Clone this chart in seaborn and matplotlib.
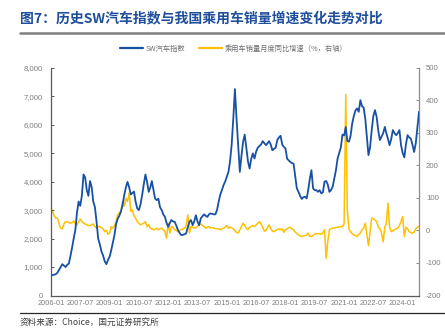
import numpy as np
import pandas as pd
import matplotlib
matplotlib.use("Agg")
import matplotlib.pyplot as plt
import seaborn as sns
from matplotlib.lines import Line2D

# ---------------- data ----------------
start_month = "2006-01"
n_months = 227
x_tick_labels = ["2006-01", "2007-07", "2009-01", "2010-07", "2012-01", "2013-07",
                 "2015-01", "2016-07", "2018-01", "2019-07", "2021-01", "2022-07", "2024-01"]
left_ticks = [0, 1000, 2000, 3000, 4000, 5000, 6000, 7000, 8000]
right_ticks = [-200, -100, 0, 100, 200, 300, 400, 500]

sw_index = [
    # 2006
    700, 720, 730, 750, 800, 900, 1000, 1100, 1050, 1000, 1080, 1120,
    # 2007
    1400, 1700, 2000, 2300, 2900, 3300, 3150, 3500, 4250, 4150, 3700, 3500,
    # 2008
    4020, 3800, 3300, 3100, 2600, 2000, 1800, 1550, 1400, 1200, 1100, 1250,
    # 2009
    1360, 1600, 1850, 2120, 2500, 2700, 2800, 2950, 3200, 3530, 3800, 3990,
    # 2010
    3800, 3550, 3600, 3650, 3300, 3060, 3000, 3200, 3530, 3900, 4250, 4000,
    # 2011
    3640, 3800, 4020, 3700, 3400, 3350, 3400, 3100, 3000, 2850, 2760, 2550,
    # 2012
    2410, 2550, 2650, 2600, 2590, 2450, 2300, 2200, 2120, 2130, 2150, 2180,
    # 2013
    2400, 2590, 2650, 2470, 2600, 2820, 2600, 2470, 2710, 2780, 2850, 2800,
    # 2014
    2760, 2850, 2880, 2870, 2850, 2850, 3000, 3290, 3550, 3700, 3880, 4000,
    # 2015
    4170, 4350, 4700, 5300, 6200, 7250, 6200, 5250, 4340, 4900, 5400, 5650,
    # 2016
    5160, 4700, 4460, 4800, 4990, 4810, 5050, 5190, 5250, 5300, 5420, 5350,
    # 2017
    5280, 5350, 5420, 5300, 5100, 5150, 5190, 5460, 5550, 5610, 5300, 5220,
    # 2018
    5160, 4800, 4750, 4690, 4650, 4630, 4200, 3760, 3640, 3500, 3390, 3450,
    # 2019
    3470, 3410, 3700, 4100, 4400, 3760, 3700, 3700, 3640, 3700, 3590, 3620,
    # 2020
    4000, 4020, 3900, 3640, 3700, 3820, 4100, 4400, 4810, 5000, 5200, 5650,
    # 2021
    5620, 5920, 5430, 5400, 5600, 6040, 6300, 6500, 6570, 6450, 6860, 6650,
    # 2022
    6600, 6200, 5600, 4930, 5200, 5810, 6300, 6510, 6270, 5800, 5460, 5580,
    # 2023
    5700, 5920, 5700, 5500, 5280, 5500, 5810, 5700, 5630, 5700, 5810, 5280,
    # 2024
    5000, 4850, 5300, 5630, 5550, 5510, 5300, 5040, 5340, 5900, 6450,
]

car_sales_yoy = [
    # 2006
    70, 58, 45, 38, 38, 20, 7, 5, 20, 27, 26, 25,
    # 2007
    22, 24, 29, 20, 17, 26, 35, 28, 22, 20, 17, 15,
    # 2008
    15, 17, 20, 12, 7, 12, 12, 8, 5, -4, 0, -12,
    # 2009
    -8, 12, 7, 15, 27, 48, 55, 60, 89, 74, 99, 89,
    # 2010
    115, 58, 63, 45, 38, 27, 22, 17, 20, 22, 27, 12,
    # 2011
    17, 7, 5, 2, 4, 7, 2, 5, 7, 2, -4, -24,
    # 2012
    22, -8, 12, 10, 2, 0, -4, 0, 2, 5, 7, 15,
    # 2013
    48, -8, 12, 10, 7, 9, 12, 18, 20, 15, 12, 7,
    # 2014
    10, 12, 7, 9, 7, 5, 5, 5, 2, 5, 7, 10,
    # 2015
    15, 7, 10, 8, 5, 0, -6, -8, 2, 12, 22, 15,
    # 2016
    7, 2, 10, 12, 15, 12, 17, 22, 27, 20, 10, -2,
    # 2017
    0, 10, 17, 5, -2, -4, 0, 2, 5, 2, 5, -6,
    # 2018
    2, 5, 9, 9, 5, 2, -5, -9, -14, -16, -19, -17,
    # 2019
    -16, -14, -8, -18, -19, -15, -12, -10, -10, -10, -12, -8,
    # 2020
    2, -86, -35, 2, 5, 7, 7, 9, 10, 10, 12, 12,
    # 2021
    20, 418, 65, 5, -4, -10, -14, -16, -19, -12, -8, 2,
    # 2022
    7, 22, -10, -47, -5, 38, 36, 32, 27, 10, 5, -8,
    # 2023
    -35, 10, 22, 84, 10, -4, 0, 2, 5, 7, 15, 27,
    # 2024
    43, -19, 10, 5, -4, -6, -9, -5, 5, 10, 12,
]

label_left = "SW汽车指数"
label_right = "乘用车销量月度同比增速（%，右轴）"
title = "图7：历史SW汽车指数与我国乘用车销量增速变化走势对比"
source = "资料来源：Choice，国元证券研究所"

# ---------------- plot ----------------
sns.set_theme(style="white")
plt.rcParams["font.family"] = ["Noto Sans CJK SC", "DejaVu Sans"]

dates = pd.date_range(start_month, periods=n_months, freq="MS")
df = pd.DataFrame({"date": dates, "sw": sw_index, "yoy": car_sales_yoy})

blue = "#1750A5"
gold = "#FFC000"
tick_col = "#7F7F7F"

fig = plt.figure(figsize=(4.45, 3.33), dpi=100)
ax = fig.add_axes([0.1146, 0.1126, 0.8270, 0.6841])
ax2 = ax.twinx()

sns.lineplot(data=df, x="date", y="sw", ax=ax, color=blue, linewidth=1.3, zorder=3)
sns.lineplot(data=df, x="date", y="yoy", ax=ax2, color=gold, linewidth=1.1, zorder=2)
ax.set_zorder(ax2.get_zorder() + 1)
ax.patch.set_visible(False)

ax.set_ylim(0, 8000)
ax.set_yticks(left_ticks)
ax.set_yticklabels([f"{v:,}" for v in left_ticks])
ax2.set_ylim(-200, 500)
ax2.set_yticks(right_ticks)
ax2.set_yticklabels([str(v) for v in right_ticks])

xt = [pd.Timestamp(s + "-01") for s in x_tick_labels]
ax.set_xticks(xt)
ax.set_xticklabels(x_tick_labels)
ax.set_xlim(dates[0], dates[-1])
ax.set_xlabel("")
ax.set_ylabel("")
ax2.set_ylabel("")

for a in (ax, ax2):
    a.grid(False)
    a.spines["top"].set_visible(False)
    for s in ("left", "right", "bottom"):
        a.spines[s].set_color("#595959")
        a.spines[s].set_linewidth(0.9)
ax.spines["right"].set_visible(False)
ax2.spines["left"].set_visible(False)
ax2.spines["bottom"].set_visible(False)
ax2.spines["right"].set_color("#8C8C8C")

ax.tick_params(axis="y", direction="in", length=2.5, width=0.7, color="#595959",
               labelsize=5.6, labelcolor=tick_col, pad=6)
ax.tick_params(axis="x", direction="in", length=2.5, width=0.7, color="#595959",
               labelsize=5.3, labelcolor=tick_col, pad=3)
ax2.tick_params(axis="y", direction="in", length=2.5, width=0.7, color="#8C8C8C",
                labelsize=5.6, labelcolor=tick_col, pad=5)
for lbl in ax.get_xticklabels() + ax.get_yticklabels() + ax2.get_yticklabels():
    lbl.set_family(["Liberation Sans", "DejaVu Sans"])

# legend
handles = [Line2D([0], [0], color=blue, lw=1.6), Line2D([0], [0], color=gold, lw=1.6)]
fig.legend(handles, [label_left, label_right], loc="center", bbox_to_anchor=(0.525, 0.853),
           ncol=2, frameon=False, fontsize=5.2, labelcolor="#707070",
           handlelength=3.2, columnspacing=2.0, handletextpad=0.3)

# title and decorations
fig.text(0.045, 0.945, title, fontsize=10, fontweight="bold", color="#1F4E9B",
         ha="left", va="center")
fig.add_artist(Line2D([0.045, 1.0], [0.9, 0.9], color="#7F7F7F", lw=1.8,
                      transform=fig.transFigure))
fig.add_artist(Line2D([0.045, 1.0], [0.061, 0.061], color="#262626", lw=0.9,
                      transform=fig.transFigure))
fig.text(0.045, 0.033, source, fontsize=6.2, color="#404040", ha="left", va="center")

fig.savefig("out.png", dpi=100)
